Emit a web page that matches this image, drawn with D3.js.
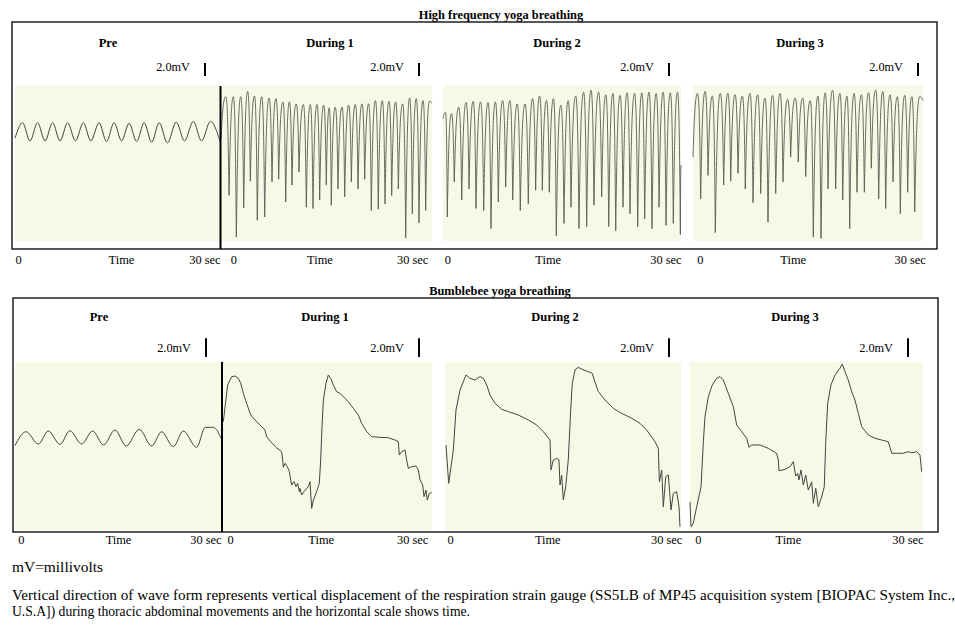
<!DOCTYPE html>
<html>
<head>
<meta charset="utf-8">
<script src="https://cdn.jsdelivr.net/npm/d3@7"></script>
<style>
  body { margin: 0; background: #fff; }
  text { font-family: "Liberation Serif", "Times New Roman", serif; fill: #000; }
</style>
</head>
<body>
<svg id="chart" width="955" height="625"></svg>
<script>
// ---------- data ----------
const panelNames = ["Pre", "During 1", "During 2", "During 3"];
const rowTitles = ["High frequency yoga breathing", "Bumblebee yoga breathing"];
const scaleLabel = "2.0mV";
const scaleBarMv = 2.0;
const xTickLabels = ["0", "Time", "30 sec"];
const duration = 30; // seconds per trace
const captionLines = [
    "mV=millivolts",
    "Vertical direction of wave form represents vertical displacement of the respiration strain gauge (SS5LB of MP45 acquisition system [BIOPAC System Inc.,",
    "U.S.A]) during thoracic abdominal movements and the horizontal scale shows time."
];

// high frequency yoga breathing, pre: [time s, mV]
const hfPre = [[0, 3.8], [1.1, 6.2], [2.2, 3.4], [3.3, 6.2], [4.4, 3.4], [5.5, 6.2], [6.6, 3.4], [7.7, 6.2],
    [8.85, 3.4], [10.0, 6.2], [11.1, 3.4], [12.3, 6.2], [13.4, 3.3], [14.5, 6.2], [15.6, 3.4], [16.7, 6.1],
    [17.8, 3.3], [18.9, 6.2], [20.0, 3.2], [21.1, 6.2], [22.3, 3.1], [23.6, 6.3], [24.8, 3.4], [26.1, 6.4],
    [27.3, 3.4], [28.6, 6.4], [30, 3.4]];

// high frequency, during: trough times (s), trough values and peak values (mV)
const hf1TroughT = [1.14, 2.18, 3.23, 4.17, 5.16, 6.21, 7.25, 8.20, 9.20, 10.09, 11.09, 12.13, 13.08, 14.03, 14.97,
    15.68, 16.63, 17.59, 18.53, 19.48, 20.43, 21.37, 22.36, 23.32, 24.27, 25.21, 26.26, 27.20, 28.15, 29.10];
const hf1TroughV = [-5.0, -11.4, -6.9, -2.8, -8.8, -8.3, -2.9, -2.5, -6.0, -3.4, -1.4, -6.8, -7.0, -5.7, -3.4,
    -6.5, -4.0, -5.2, -2.9, -4.0, -2.5, -7.3, -7.1, -6.3, -5.0, -4.0, -11.5, -7.8, -9.2, -7.3];
const hf1PeakV = [10.2, 10.2, 10.2, 11.0, 10.3, 10.2, 10.0, 9.9, 9.4, 9.4, 9.1, 9.0, 9.0, 9.0, 8.9, 8.5,
    8.6, 8.6, 8.9, 9.0, 9.1, 9.1, 9.6, 9.6, 9.5, 9.4, 9.1, 10.0, 9.9, 9.6, 9.5];
const hf1Ends = [3.7, 9.2];

const hf2TroughT = [0.54, 1.42, 2.36, 3.28, 4.16, 5.13, 6.05, 6.97, 7.90, 8.79, 9.74, 10.75, 11.68, 12.52, 13.40,
    14.28, 15.25, 16.13, 17.14, 18.11, 19.03, 20.00, 20.89, 21.77, 22.69, 23.57, 24.54, 25.42, 26.34, 27.23,
    28.11, 29.03, 29.92];
const hf2TroughV = [-8.3, -2.9, -5.7, -4.0, -7.0, -7.3, -10.1, -6.0, -3.7, -5.7, -7.3, -6.3, -4.2, -4.2, -4.5,
    -11.2, -9.3, -6.8, -10.1, -9.8, -6.5, -5.2, -9.8, -10.4, -6.8, -7.8, -9.8, -8.6, -10.1, -6.8,
    -9.6, -9.3, -11.0];
const hf2PeakV = [7.8, 7.6, 8.6, 9.3, 9.5, 9.4, 9.3, 9.4, 9.6, 9.6, 9.1, 9.1, 9.9, 10.3, 9.6,
    9.9, 8.9, 9.6, 10.3, 10.9, 11.2, 10.9, 10.5, 10.7, 10.4, 10.8, 10.7, 10.8, 10.9, 10.7,
    10.9, 10.8, 10.9];
const hf2Ends = [6.8, -0.3];

const hf3TroughT = [1.00, 1.96, 2.91, 4.00, 4.92, 5.87, 6.82, 7.83, 8.83, 9.78, 10.79, 11.74, 12.74, 13.73, 14.70,
    15.69, 16.70, 17.61, 18.61, 19.53, 20.44, 21.39, 22.35, 23.26, 24.22, 25.13, 26.09, 27.04, 28.00, 28.92];
const hf3TroughV = [-5.5, -1.9, -10.7, -3.4, -2.8, -1.6, -4.0, -6.1, -4.7, -9.1, -4.7, -2.9, 0.9, 0.15, -2.1,
    -11.4, -11.6, -4.0, -4.0, -5.7, -10.1, -4.5, -4.5, -0.8, -5.5, -7.0, -2.9, -7.8, -4.5, -7.5];
const hf3PeakV = [10.7, 11.0, 10.3, 10.7, 10.7, 10.5, 10.3, 10.7, 10.5, 10.0, 10.4, 10.7, 9.8, 10.0, 10.0,
    9.6, 10.3, 10.8, 11.2, 10.7, 10.3, 10.7, 10.5, 10.8, 11.2, 11.0, 10.5, 10.2, 10.4, 10.2, 10.2];
const hf3Ends = [0.9, 9.6];

// bumblebee yoga breathing: [time s, mV]
const bbPre = [[0, 0.05], [1.6, 1.53], [3.4, 0.21], [4.85, 1.61], [6.55, 0.18], [8.0, 1.64], [9.7, 0.21],
    [11.3, 1.61], [12.9, 0.11], [14.55, 1.71], [16.2, 0], [18.1, 1.79], [19.9, 0], [21.35, 1.53],
    [23.05, -0.07], [24.5, 1.61], [26.45, -0.14], [27.7, 2.0], [28.9, 2.0], [30, 0.83]];

const bb1 = [[0.19, 2.61], [0.81, 6.54], [1.38, 7.43], [1.86, 7.50], [2.33, 7.25], [2.67, 6.72], [3.05, 5.64],
    [3.52, 4.57], [4.10, 3.32], [4.71, 2.79], [5.43, 2.25], [6.14, 1.71], [6.38, 1.0], [6.95, 0.46],
    [7.71, -0.14], [8.52, -0.61], [8.67, -1.50], [8.76, -2.29], [9.0, -1.86], [9.33, -2.21], [9.62, -2.75],
    [9.95, -4.18], [10.29, -3.82], [10.57, -4.36], [10.81, -4.0], [11.05, -4.89], [11.14, -4.54],
    [11.38, -5.25], [11.71, -4.89], [12.33, -4.36], [12.57, -3.82], [12.81, -6.68], [13.05, -5.79],
    [13.52, -4.89], [13.90, -4.0], [14.10, -1.50], [14.29, 2.07], [14.48, 4.93], [14.86, 6.72],
    [15.19, 7.61], [15.52, 7.25], [15.90, 6.54], [16.38, 5.82], [16.86, 5.64], [17.33, 5.29],
    [18.05, 4.75], [18.76, 4.04], [19.48, 3.32], [19.95, 2.43], [20.67, 1.54], [21.38, 1.0],
    [22.57, 0.93], [23.76, 0.89], [24.71, 0.64], [25.19, 0.46], [25.33, -0.96], [25.67, -0.61],
    [26.14, -0.43], [26.38, -1.50], [26.62, -2.39], [27.10, -2.21], [27.71, -2.14], [28.05, -2.57],
    [28.29, -3.64], [28.67, -4.18], [28.86, -5.43], [29.14, -4.72], [29.33, -5.79], [29.62, -5.07],
    [29.95, -5.0]];

const bb2 = [[0.13, 0.11], [0.47, -4.0], [1.06, -0.43], [1.40, 3.86], [1.91, 6.0], [2.67, 7.61], [3.18, 7.26],
    [3.81, 7.07], [4.45, 7.43], [4.87, 7.26], [5.30, 6.54], [5.72, 5.47], [6.36, 4.58], [7.21, 3.93],
    [8.05, 3.68], [9.32, 3.32], [10.59, 2.79], [11.66, 2.25], [12.50, 1.53], [13.35, 0.64], [13.47, -2.57],
    [13.77, -1.50], [14.20, -1.32], [14.49, -1.50], [14.62, -4.18], [14.83, -3.11], [15.04, -5.79],
    [15.34, -4.36], [15.67, -1.50], [15.98, 3.86], [16.18, 6.72], [16.53, 8.15], [16.95, 8.43],
    [17.58, 8.15], [18.22, 7.96], [18.72, 7.79], [18.98, 7.07], [19.49, 5.82], [20.34, 4.93],
    [21.39, 4.04], [22.46, 3.50], [23.73, 2.97], [24.79, 2.43], [25.64, 1.71], [26.70, 0.46],
    [27.12, -0.25], [27.25, -3.83], [27.55, -2.57], [27.75, -6.51], [28.06, -3.29], [28.39, -3.11],
    [28.60, -5.43], [28.73, -6.86], [29.02, -5.07], [29.45, -4.90], [29.75, -6.51], [29.87, -8.65]];

const bb3 = [[0, -5.97], [0.13, -8.65], [0.42, -8.29], [0.86, -6.51], [1.42, -4.36], [1.71, 0.29], [1.93, 3.14],
    [2.36, 5.28], [2.87, 6.54], [3.44, 7.26], [3.86, 7.43], [4.29, 7.07], [4.93, 5.65], [5.58, 4.21],
    [6.01, 2.25], [6.66, 1.53], [7.30, 0.83], [7.60, -0.14], [7.94, 0.11], [9.01, 0.11], [10.08, -0.25],
    [11.16, -0.79], [11.37, -1.50], [11.46, -2.65], [12.23, -2.50], [12.88, -2.22], [13.30, -1.68],
    [13.61, -3.22], [13.87, -2.93], [14.03, -3.64], [14.29, -2.57], [14.59, -4.18], [14.90, -3.11],
    [15.23, -4.72], [15.67, -3.83], [15.88, -6.14], [16.19, -4.53], [16.52, -6.51], [16.96, -5.43],
    [17.29, -4.36], [17.47, 0.29], [17.73, 4.58], [18.15, 6.54], [18.67, 7.61], [19.31, 8.33],
    [19.61, 8.79], [19.96, 7.96], [20.38, 7.07], [20.82, 5.82], [21.24, 4.93], [21.67, 3.50],
    [22.11, 2.07], [22.96, 1.18], [23.82, 0.83], [24.68, 0.64], [25.53, 0.46], [25.97, -0.78],
    [26.61, -0.78], [27.46, -0.78], [28.11, -0.61], [28.54, -0.72], [29.19, -0.61], [29.61, -0.96],
    [29.83, -2.75]];

// ---------- layout ----------
const rows = [
    {
        title: rowTitles[0], titleX: 501, titleY: 19,
        frame: { x: 12, y: 22, w: 925, h: 227 },
        plotTop: 85, plotBottom: 241, yDomain: [-12, 12],
        labelY: 46.5, barBottom: 76, barTextY: 71, tickY: 264,
        divider: { x: 220.5, y0: 86, y1: 249 },
        panels: [
            { x0: 15, x1: 220, labelX: 108, barX: 205, ticks: [0, 15.5, 30], kind: "smooth", data: hfPre },
            { x0: 221, x1: 432, labelX: 330, barX: 419, ticks: [1.3, 14.0, 29.4], kind: "arch", troughT: hf1TroughT, troughV: hf1TroughV, peakV: hf1PeakV, ends: hf1Ends },
            { x0: 443, x1: 681, labelX: 557, barX: 669, ticks: [0.15, 13.2, 30], kind: "arch", troughT: hf2TroughT, troughV: hf2TroughV, peakV: hf2PeakV, ends: hf2Ends },
            { x0: 693, x1: 923, labelX: 800, barX: 918, ticks: [0.5, 13.0, 30.3], kind: "arch", troughT: hf3TroughT, troughV: hf3TroughV, peakV: hf3PeakV, ends: hf3Ends }
        ]
    },
    {
        title: rowTitles[1], titleX: 500, titleY: 295,
        frame: { x: 13, y: 298, w: 925, h: 234 },
        plotTop: 362, plotBottom: 530, yDomain: [-9, 9],
        labelY: 321, barBottom: 357, barTextY: 351.5, tickY: 544,
        divider: { x: 222, y0: 362, y1: 532 },
        panels: [
            { x0: 15, x1: 221, labelX: 99, barX: 206, ticks: [0.4, 15.0, 30], kind: "smooth", data: bbPre },
            { x0: 222, x1: 432, labelX: 325, barX: 419, ticks: [0.7, 14.1, 29.4], kind: "line", data: bb1 },
            { x0: 445, x1: 681, labelX: 555, barX: 669, ticks: [0.25, 13.0, 30.1], kind: "line", data: bb2 },
            { x0: 690, x1: 923, labelX: 795, barX: 908, ticks: [0.6, 12.6, 30], kind: "line", data: bb3 }
        ]
    }
];

const svg = d3.select("#chart");

// rounded top, sharp bottom: breathing cycle drawn between peaks and troughs
function archPath(pts) {
    const p = d3.path();
    p.moveTo(pts[0][0], pts[0][1]);
    for (let i = 1; i < pts.length; i++) {
        const [ax, ay] = pts[i - 1];
        const [bx, by] = pts[i];
        const dx = bx - ax;
        if (by < ay) { // rising to a peak
            p.bezierCurveTo(ax + 0.25 * dx, ay + 0.55 * (by - ay), bx - 0.55 * dx, by, bx, by);
        } else { // falling into a trough
            p.bezierCurveTo(ax + 0.55 * dx, ay, bx - 0.25 * dx, by + 0.55 * (ay - by), bx, by);
        }
    }
    return p.toString();
}

rows.forEach((row, r) => {
    const g = svg.append("g");
    const y = d3.scaleLinear().domain(row.yDomain).range([row.plotBottom, row.plotTop]);

    // row title and frame
    g.append("text")
        .attr("x", row.titleX).attr("y", row.titleY)
        .attr("text-anchor", "middle")
        .attr("font-size", "12.4px").attr("font-weight", "bold")
        .text(row.title);

    g.append("rect")
        .attr("x", row.frame.x).attr("y", row.frame.y)
        .attr("width", row.frame.w).attr("height", row.frame.h)
        .attr("fill", "none").attr("stroke", "#111").attr("stroke-width", 1.4);

    row.panels.forEach((pn, i) => {
        const x = d3.scaleLinear().domain([0, duration]).range([pn.x0, pn.x1]);

        // cream plot background
        g.append("rect")
            .attr("x", pn.x0).attr("y", row.plotTop)
            .attr("width", pn.x1 - pn.x0).attr("height", row.plotBottom - row.plotTop)
            .attr("fill", "#f8f8e7");

        // panel name
        g.append("text")
            .attr("x", pn.labelX).attr("y", row.labelY)
            .attr("text-anchor", "middle")
            .attr("font-size", "12.5px").attr("font-weight", "bold")
            .text(panelNames[i]);

        // 2.0 mV calibration bar
        const barH = y(0) - y(scaleBarMv);
        g.append("line")
            .attr("x1", pn.barX).attr("x2", pn.barX)
            .attr("y1", row.barBottom - barH).attr("y2", row.barBottom)
            .attr("stroke", "#000").attr("stroke-width", 2);
        g.append("text")
            .attr("x", pn.barX - 15).attr("y", row.barTextY)
            .attr("text-anchor", "end")
            .attr("font-size", "12.3px")
            .text(scaleLabel);

        // trace
        let d;
        if (pn.kind === "smooth") {
            d = d3.line().x(p => x(p[0])).y(p => y(p[1])).curve(d3.curveMonotoneX)(pn.data);
        } else if (pn.kind === "line") {
            d = d3.line().x(p => x(p[0])).y(p => y(p[1]))(pn.data);
        } else {
            const pts = [[x(0), y(pn.ends[0])]];
            let prevT = 0;
            pn.troughT.forEach((t, k) => {
                pts.push([x(prevT + 0.6 * (t - prevT)), y(pn.peakV[k])]);
                pts.push([x(t), y(pn.troughV[k])]);
                prevT = t;
            });
            if (pn.peakV.length > pn.troughT.length) {
                pts.push([x(prevT + 0.6 * (duration - prevT)), y(pn.peakV[pn.peakV.length - 1])]);
            }
            pts.push([x(duration), y(pn.ends[1])]);
            d = archPath(pts);
        }
        g.append("path")
            .attr("d", d)
            .attr("fill", "none")
            .attr("stroke", r === 0 && pn.kind === "arch" ? "#5a5a55" : "#444")
            .attr("stroke-width", r === 0 && pn.kind === "arch" ? 0.9 : 1)
            .attr("stroke-linejoin", "round");

        // time axis
        const axis = g.append("g")
            .attr("transform", `translate(0,${row.tickY})`)
            .call(d3.axisBottom(x).tickValues(pn.ticks).tickSize(0)
                .tickFormat((v, k) => xTickLabels[k]));
        axis.select(".domain").remove();
        axis.selectAll("text")
            .attr("y", 0).attr("dy", null)
            .attr("font-size", "12.4px")
            .attr("font-family", "Liberation Serif, serif")
            .attr("fill", "#000")
            .attr("text-anchor", (v, k) => ["start", "middle", "end"][k]);
    });

    // divider between Pre and During 1
    g.append("line")
        .attr("x1", row.divider.x).attr("x2", row.divider.x)
        .attr("y1", row.divider.y0).attr("y2", row.divider.y1)
        .attr("stroke", "#000").attr("stroke-width", 2);
});

// caption
const capY = [572, 600, 616];
const capW = [91, 943, 458];
svg.selectAll(".caption")
    .data(captionLines)
    .enter().append("text")
    .attr("class", "caption")
    .attr("x", 12)
    .attr("y", (d, i) => capY[i])
    .attr("font-size", "15px")
    .attr("textLength", (d, i) => capW[i])
    .attr("lengthAdjust", "spacingAndGlyphs")
    .text(d => d);
</script>
</body>
</html>
